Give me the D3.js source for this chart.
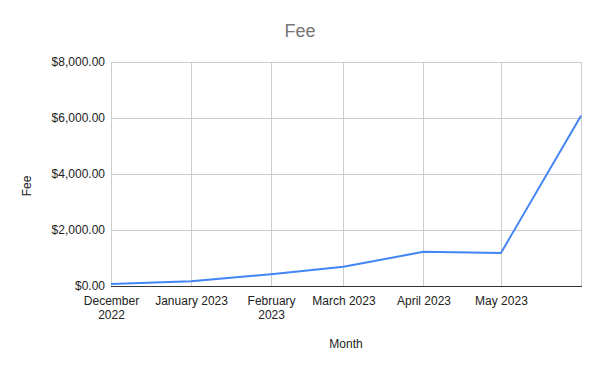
<!DOCTYPE html>
<html>
<head>
<meta charset="utf-8">
<script src="https://cdn.jsdelivr.net/npm/d3@7"></script>
<style>
  body { margin: 0; background: #fff; }
  text { font-family: Arial, "Liberation Sans", sans-serif; }
</style>
</head>
<body>
<script>
// chart data
var months = ['2022-12-01', '2023-01-01', '2023-02-01', '2023-03-01', '2023-04-01', '2023-05-01', '2023-06-01'];
var fees = [70, 170, 420, 690, 1220, 1180, 6080];
var yTicks = [0, 2000, 4000, 6000, 8000];

var width = 600,
    height = 371,
    margin = { top: 62, right: 19, bottom: 85, left: 111 };

var parse = d3.timeParse('%Y-%m-%d');
var data = months.map(function (m, i) {
    return { date: parse(m), fee: fees[i] };
});

// Scale for x-axis (time, so month gaps follow the days)
var xScale = d3.scaleTime()
    .domain(d3.extent(data, function (d) { return d.date; }))
    .range([margin.left, width - margin.right]);

// Scale for y-axis
var yScale = d3.scaleLinear()
    .domain([0, 8000])
    .range([height - margin.bottom, margin.top]);

var svg = d3.select('body').append('svg')
    .attr('width', width)
    .attr('height', height);

// title
svg.append('text')
    .attr('x', width / 2)
    .attr('y', 37)
    .attr('text-anchor', 'middle')
    .style('font-size', '18px')
    .style('fill', '#757575')
    .text('Fee');

// horizontal grid
svg.append('g')
    .selectAll('line')
    .data(yTicks)
    .enter().append('line')
    .attr('x1', margin.left)
    .attr('x2', width - margin.right)
    .attr('y1', function (d) { return yScale(d) + 0.5; })
    .attr('y2', function (d) { return yScale(d) + 0.5; })
    .style('stroke', '#cccccc');

// vertical grid
svg.append('g')
    .selectAll('line')
    .data(data)
    .enter().append('line')
    .attr('x1', function (d) { return Math.round(xScale(d.date)) + 0.5; })
    .attr('x2', function (d) { return Math.round(xScale(d.date)) + 0.5; })
    .attr('y1', margin.top)
    .attr('y2', height - margin.bottom)
    .style('stroke', '#cccccc');

// y axis labels
var fmt = d3.format('$,.2f');
var yAxis = d3.axisLeft(yScale)
    .tickValues(yTicks)
    .tickSize(0)
    .tickPadding(6)
    .tickFormat(fmt);

svg.append('g')
    .attr('transform', 'translate(' + margin.left + ',0)')
    .call(yAxis)
    .call(function (g) { g.select('.domain').remove(); })
    .selectAll('text')
    .style('font-size', '12px')
    .style('fill', '#222');

// x axis labels (last month has no label)
var xAxis = d3.axisBottom(xScale)
    .tickValues(data.map(function (d) { return d.date; }))
    .tickSize(0)
    .tickPadding(10)
    .tickFormat(function (d, i) {
        return i === data.length - 1 ? '' : d3.timeFormat('%B %Y')(d);
    });

var xg = svg.append('g')
    .attr('transform', 'translate(0,' + (height - margin.bottom) + ')')
    .call(xAxis);
xg.select('.domain').remove();
xg.selectAll('text')
    .style('font-size', '12px')
    .style('fill', '#222')
    .each(function () {
        var t = d3.select(this);
        var label = t.text();
        if (this.getComputedTextLength() > 75) {
            var parts = label.split(' ');
            t.text(null);
            t.append('tspan').attr('x', 0).attr('dy', '0.71em').text(parts[0]);
            t.append('tspan').attr('x', 0).attr('dy', '1.17em').text(parts.slice(1).join(' '));
            t.attr('dy', null);
        }
    });

// baseline
svg.append('line')
    .attr('x1', margin.left)
    .attr('x2', width - margin.right + 1)
    .attr('y1', yScale(0) + 0.5)
    .attr('y2', yScale(0) + 0.5)
    .style('stroke', '#333');

// axis titles
svg.append('text')
    .attr('x', (margin.left + width - margin.right) / 2)
    .attr('y', 348)
    .attr('text-anchor', 'middle')
    .style('font-size', '12px')
    .style('fill', '#222')
    .text('Month');

svg.append('text')
    .attr('transform', 'translate(31,186) rotate(-90)')
    .attr('text-anchor', 'middle')
    .style('font-size', '12px')
    .style('fill', '#222')
    .text('Fee');

// the line
var line = d3.line()
    .x(function (d) { return xScale(d.date); })
    .y(function (d) { return yScale(d.fee); });

svg.append('path')
    .datum(data)
    .attr('d', line)
    .style('fill', 'none')
    .style('stroke', '#4285f4')
    .style('stroke-width', 2)
    .style('stroke-linejoin', 'round');
</script>
</body>
</html>
